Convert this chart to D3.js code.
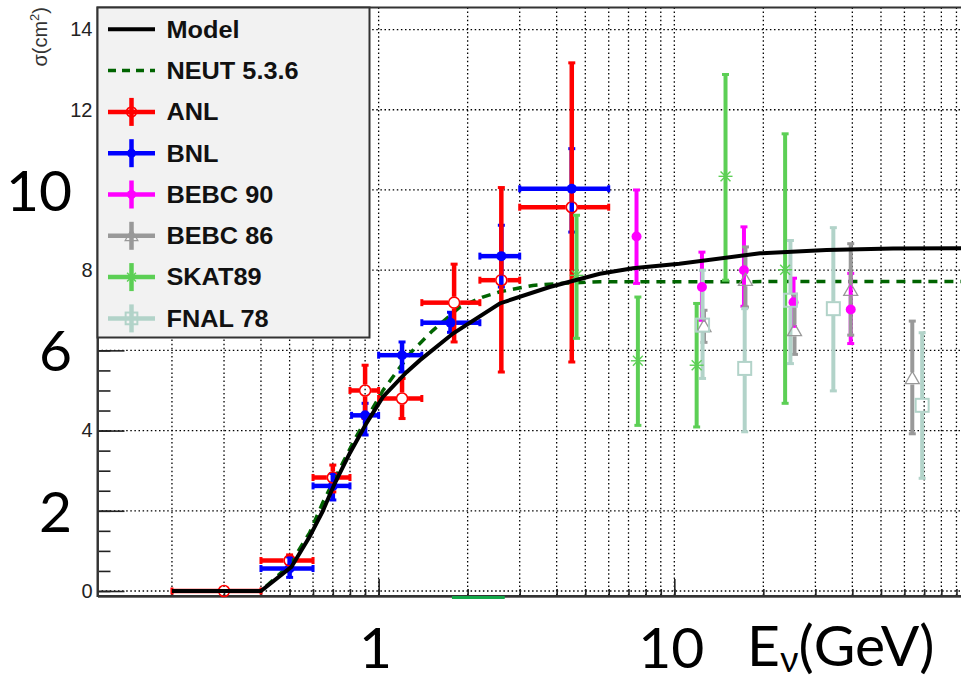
<!DOCTYPE html>
<html>
<head>
<meta charset="utf-8">
<script src="https://cdn.jsdelivr.net/npm/d3@7"></script>
<style>
  body { margin: 0; background: #fff; }
  svg { display: block; font-family: "Liberation Sans", Arial, sans-serif; }
</style>
</head>
<body>
<div id="chart"></div>
<script>
// model curves (E in GeV, sigma in 1e-39 cm^2)
var modelEnergy = [0.2, 0.4, 0.507, 0.584, 0.648, 0.71, 0.798, 0.909, 1.034, 1.24, 1.377, 1.784, 2.567, 3.79, 5.6, 7.24, 10.4, 19.5, 32.7, 54.9, 100];
var modelSigma  = [0, 0, 0.6, 1.35, 2.0, 2.68, 3.43, 4.18, 4.84, 5.45, 5.75, 6.42, 7.17, 7.58, 7.91, 8.05, 8.16, 8.42, 8.5, 8.54, 8.55];
var neutEnergy  = [0.2, 0.4, 0.5, 0.584, 0.647, 0.757, 0.84, 1.034, 1.29, 1.527, 1.88, 2.25, 2.567, 3.32, 4.32, 5.6, 100];
var neutSigma   = [0, 0, 0.65, 1.45, 2.2, 3.2, 3.85, 5.0, 5.96, 6.5, 7.08, 7.33, 7.46, 7.62, 7.68, 7.71, 7.72];

// [E, sigma, Elow, Ehigh, sigmaLow, sigmaHigh]
var anlData = [
  [0.3, 0, 0.2, 0.4, 0, 0],
  [0.5, 0.76, 0.4, 0.6, 0.6, 0.9],
  [0.7, 2.83, 0.6, 0.8, 2.47, 3.14],
  [0.9, 5.0, 0.8, 1.0, 4.3, 5.63],
  [1.2, 4.8, 1.0, 1.4, 4.3, 5.3],
  [1.8, 7.19, 1.4, 2.2, 6.21, 8.15],
  [2.6, 7.75, 2.2, 3.0, 5.46, 10.06],
  [4.5, 9.57, 3.0, 6.0, 5.71, 13.17]
];
var bnlData = [
  [0.5, 0.56, 0.4, 0.6, 0.34, 0.85],
  [0.7, 2.62, 0.6, 0.8, 2.27, 2.93],
  [0.9, 4.38, 0.81, 1.0, 3.89, 4.68],
  [1.2, 5.88, 1.0, 1.4, 5.46, 6.21],
  [1.75, 6.69, 1.4, 2.2, 6.45, 6.95],
  [2.6, 8.35, 2.2, 3.0, 7.58, 9.12],
  [4.5, 10.03, 3.0, 6.0, 8.95, 11.03]
];
// [E, sigma, sigmaLow, sigmaHigh]
var bebc90Data = [
  [7.45, 8.84, 7.67, 10.0],
  [12.4, 7.58, 6.75, 8.45],
  [17.2, 8.0, 7.1, 9.08],
  [25.3, 7.2, 6.6, 7.8],
  [39.5, 7.02, 6.17, 7.92]
];
var bebc86Data = [
  [12.6, 6.6, 6.2, 7.0],
  [17.4, 7.75, 7.08, 8.58],
  [25.5, 6.5, 5.9, 7.4],
  [39.5, 7.5, 6.38, 8.66],
  [63.8, 5.3, 3.92, 6.73]
];
var skat89Data = [
  [4.67, 7.87, 6.3, 9.37],
  [7.53, 5.74, 4.13, 7.33],
  [11.9, 5.63, 4.09, 7.17],
  [14.9, 10.34, 7.75, 12.88],
  [23.7, 8.01, 4.68, 11.4]
];
var fnal78Data = [
  [12.46, 6.63, 5.3, 8.0],
  [17.3, 5.55, 3.97, 7.04],
  [24.7, 7.25, 5.67, 8.74],
  [34.5, 7.04, 4.99, 9.06],
  [68.9, 4.63, 2.81, 6.44]
];
// short bin drawn just below the axis
var lowBin = [1.77, 2.67];
var lowBinSigma = -0.16;

var xGridTicks = [0.2, 0.3, 0.4, 0.5, 0.6, 0.7, 0.8, 0.9, 1, 2, 3, 4, 5, 6, 7, 8, 9, 10, 20, 30, 40, 50, 60, 70, 80, 90];
var xMajorTicks = [1, 10];
var yMajorTicks = [0, 2, 4, 6, 8, 10, 12, 14];
var yMinorTicks = d3.range(0, 14.01, 0.5);
var bigYLabels = ["10", "6", "2"];
var bigYValues = [10, 6, 2];
var bigXLabels = ["1", "10"];
var bigXValues = [1, 10];

var legendNames = ["Model", "NEUT 5.3.6", "ANL", "BNL", "BEBC 90", "BEBC 86", "SKAT89", "FNAL 78"];

var W = 961, H = 684;
var svg = d3.select("#chart").append("svg").attr("width", W).attr("height", H);

var x = d3.scaleLog().domain([0.112, 100]).range([97.5, 970]);
var y = d3.scaleLinear().domain([-0.125, 14.55]).range([596, 7.5]);
var x0 = x.range()[0], x1 = x.range()[1], yTop = y.range()[1], yBot = y.range()[0];

// grid
var grid = svg.append("g").attr("stroke", "#000").attr("stroke-width", 1.3).attr("stroke-dasharray", "1.5,2.6");
grid.selectAll(".gx").data(xGridTicks).enter().append("line")
  .attr("x1", function (d) { return x(d); }).attr("x2", function (d) { return x(d); })
  .attr("y1", yTop).attr("y2", yBot);
grid.selectAll(".gy").data(yMajorTicks).enter().append("line")
  .attr("x1", x0).attr("x2", x1)
  .attr("y1", function (d) { return y(d); }).attr("y2", function (d) { return y(d); });

// axes
var yMinor = svg.append("g").attr("transform", "translate(" + x0 + ",0)")
  .call(d3.axisLeft(y).tickValues(yMinorTicks).tickSize(-13).tickSizeOuter(0).tickFormat(""));
var yMajor = svg.append("g").attr("transform", "translate(" + x0 + ",0)")
  .call(d3.axisLeft(y).tickValues(yMajorTicks).tickSize(-27).tickSizeOuter(0).tickPadding(5));
yMajor.selectAll("text").attr("font-size", 20).attr("fill", "#222")
  .attr("font-family", "'Liberation Sans', Arial, sans-serif");
var xMinor = svg.append("g").attr("transform", "translate(0," + yBot + ")")
  .call(d3.axisBottom(x).tickValues(xGridTicks).tickSize(-7).tickSizeOuter(0).tickFormat(""));
var xMajor = svg.append("g").attr("transform", "translate(0," + yBot + ")")
  .call(d3.axisBottom(x).tickValues(xMajorTicks).tickSize(-17).tickSizeOuter(0).tickFormat(""));
svg.selectAll(".tick line").attr("stroke", "#222").attr("stroke-width", 1.6);
svg.selectAll(".domain").attr("stroke", "#444").attr("stroke-width", 2);

// frame
svg.append("rect").attr("x", x0).attr("y", yTop).attr("width", x1 - x0).attr("height", yBot - yTop)
  .attr("fill", "none").attr("stroke", "#333").attr("stroke-width", 2);

// curves
var line = d3.line().x(function (d) { return x(d[0]); }).y(function (d) { return y(d[1]); });
svg.append("path").datum(d3.zip(neutEnergy, neutSigma)).attr("d", line)
  .attr("fill", "none").attr("stroke", "#006400").attr("stroke-width", 3.5).attr("stroke-dasharray", "9,7");

// markers
function drawMarker(g, type, cx, cy, color, s) {
  s = s || 1;
  if (type === "openCircle") {
    g.append("circle").attr("cx", cx).attr("cy", cy).attr("r", 5.5 * s)
      .attr("fill", "none").attr("stroke", color).attr("stroke-width", 1.6);
  } else if (type === "filledCircle") {
    g.append("circle").attr("cx", cx).attr("cy", cy).attr("r", 5 * s).attr("fill", color);
  } else if (type === "openTriangle") {
    var a = 7 * s;
    g.append("path").attr("d", "M" + cx + "," + (cy - a) + "L" + (cx + a) + "," + (cy + a * 0.75) + "L" + (cx - a) + "," + (cy + a * 0.75) + "Z")
      .attr("fill", "none").attr("stroke", color).attr("stroke-width", 1.3);
  } else if (type === "openSquare") {
    var h = 6.5 * s;
    g.append("rect").attr("x", cx - h).attr("y", cy - h).attr("width", 2 * h).attr("height", 2 * h)
      .attr("fill", "none").attr("stroke", color).attr("stroke-width", 2);
  } else if (type === "asterisk") {
    var r = 7 * s;
    [0, 45, 90, 135].forEach(function (ang) {
      var dx = r * Math.cos(ang * Math.PI / 180), dy = r * Math.sin(ang * Math.PI / 180);
      g.append("line").attr("x1", cx - dx).attr("y1", cy - dy).attr("x2", cx + dx).attr("y2", cy + dy)
        .attr("stroke", color).attr("stroke-width", 1.4);
    });
  }
}
function markerGap(type) {
  if (type === "openCircle") return 6;
  if (type === "openSquare") return 7;
  if (type === "openTriangle") return 6;
  return 0;
}

function seg(g, xa, ya, xb, yb, color, w) {
  g.append("line").attr("x1", xa).attr("y1", ya).attr("x2", xb).attr("y2", yb)
    .attr("stroke", color).attr("stroke-width", w);
}

function toFull(rows) {
  return rows.map(function (r) { return [r[0], r[1], r[0], r[0], r[2], r[3]]; });
}

var series = [
  { name: "BNL", color: "#0000ff", marker: "filledCircle", data: bnlData, w: 4.5 },
  { name: "ANL", color: "#ff0000", marker: "openCircle", data: anlData, w: 4.5 },
  { name: "BEBC 90", color: "#ff00ff", marker: "filledCircle", data: toFull(bebc90Data), w: 4 },
  { name: "BEBC 86", color: "#999999", marker: "openTriangle", data: toFull(bebc86Data), w: 4 },
  { name: "SKAT89", color: "#5ccf55", marker: "asterisk", data: toFull(skat89Data), w: 4 },
  { name: "FNAL 78", color: "#b2d3c9", marker: "openSquare", data: toFull(fnal78Data), w: 4 }
];

var bars = svg.append("g");
series.forEach(function (s) {
  var gap = markerGap(s.marker);
  s.data.forEach(function (p) {
    var cx = x(p[0]), cy = y(p[1]);
    if (p[5] > p[4]) {
      var yh = y(p[5]), yl = y(p[4]);
      if (yh < cy - gap) seg(bars, cx, yh, cx, cy - gap, s.color, s.w);
      if (yl > cy + gap) seg(bars, cx, cy + gap, cx, yl, s.color, s.w);
      seg(bars, cx - 3.5, yh, cx + 3.5, yh, s.color, 3);
      seg(bars, cx - 3.5, yl, cx + 3.5, yl, s.color, 3);
    }
    if (p[3] > p[2]) {
      var xl = x(p[2]), xh = x(p[3]);
      seg(bars, xl, cy, cx - gap, cy, s.color, s.w);
      seg(bars, cx + gap, cy, xh, cy, s.color, s.w);
      seg(bars, xl, cy - 3.5, xl, cy + 3.5, s.color, 3);
      seg(bars, xh, cy - 3.5, xh, cy + 3.5, s.color, 3);
    }
  });
});
seg(bars, x(lowBin[0]), y(lowBinSigma), x(lowBin[1]), y(lowBinSigma), "#14a84a", 3);

var marks = svg.append("g");
series.forEach(function (s) {
  s.data.forEach(function (p) {
    drawMarker(marks, s.marker, x(p[0]), y(p[1]), s.color, 1);
  });
});

svg.append("path").datum(d3.zip(modelEnergy, modelSigma)).attr("d", line)
  .attr("fill", "none").attr("stroke", "#000").attr("stroke-width", 4);

// legend
var leg = svg.append("g");
leg.append("rect").attr("x", x0).attr("y", yTop).attr("width", 272).attr("height", 330)
  .attr("fill", "#f2f2f2").attr("stroke", "#333").attr("stroke-width", 2);
var legStyle = {
  "Model": { color: "#000", dash: null },
  "NEUT 5.3.6": { color: "#006400", dash: "8,6" }
};
var serByName = {};
series.forEach(function (s) { serByName[s.name] = s; });
legendNames.forEach(function (name, i) {
  var ly = 29.3 + i * 41.3;
  var g = leg.append("g");
  if (legStyle[name]) {
    var l = g.append("line").attr("x1", 108).attr("x2", 155).attr("y1", ly).attr("y2", ly)
      .attr("stroke", legStyle[name].color).attr("stroke-width", 4);
    if (legStyle[name].dash) l.attr("stroke-dasharray", legStyle[name].dash).attr("stroke-width", 3.5);
  } else {
    var s = serByName[name];
    seg(g, 108, ly, 155, ly, s.color, 4.5);
    seg(g, 131.5, ly - 14, 131.5, ly + 14, s.color, 4.5);
    drawMarker(g, s.marker, 131.5, ly, s.color, 0.9);
  }
  g.append("text").attr("transform", "translate(166.5," + (ly + 8.3) + ") scale(1.1,1)")
    .attr("font-size", 23).attr("font-weight", "bold").attr("fill", "#111").text(name);
});

// y title
var yt = svg.append("text").attr("transform", "translate(47,7) rotate(-90)")
  .attr("text-anchor", "end").attr("font-size", 20).attr("fill", "#333");
yt.append("tspan").text("\u03c3(cm");
yt.append("tspan").attr("font-size", 13).attr("dy", -8).text("2");
yt.append("tspan").attr("dy", 8).text(")");

// big overlay labels
var big = svg.append("g").attr("font-family", "Lato, 'Open Sans', sans-serif").attr("font-size", 57).attr("fill", "#000");
bigYValues.forEach(function (v, i) {
  big.append("rect").attr("x", 0).attr("y", y(v) - 26).attr("width", x0 - 2).attr("height", 52).attr("fill", "#fff");
  big.append("text").attr("x", 72).attr("y", y(v) + 21).attr("text-anchor", "end").text(bigYLabels[i]);
});
bigXValues.forEach(function (v, i) {
  big.append("text").attr("x", x(v) - 3).attr("y", 668).attr("text-anchor", "middle").text(bigXLabels[i]);
});
var et = big.append("text").attr("x", 747).attr("y", 666);
et.append("tspan").text("E");
et.append("tspan").attr("font-size", 36).attr("dy", 6).text("\u03bd");
et.append("tspan").attr("dy", -6).text("(GeV)");
</script>
</body>
</html>
